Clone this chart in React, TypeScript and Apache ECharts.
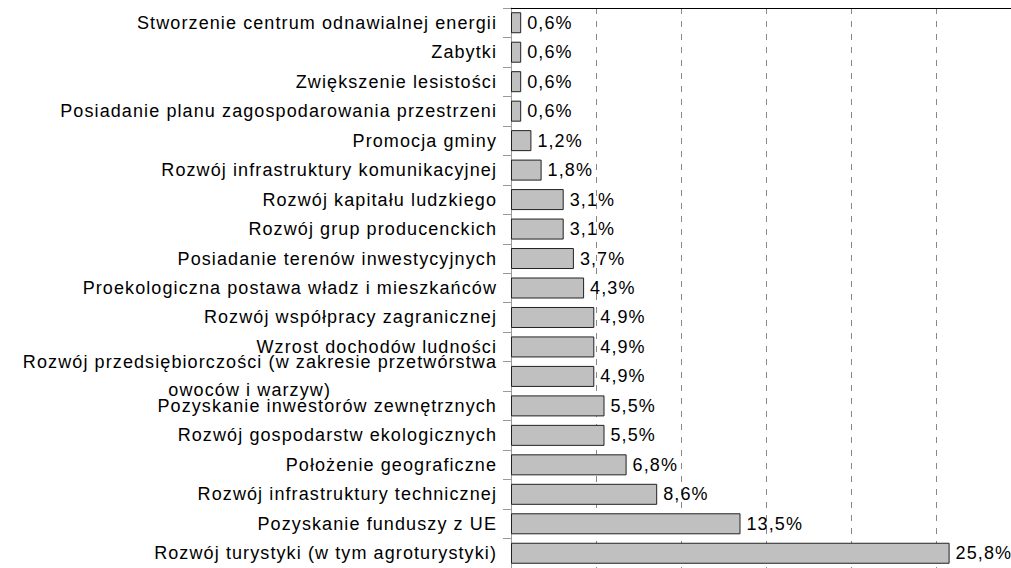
import React, { useEffect, useRef } from "react";
import * as echarts from "echarts";

const categories: string[] = [
  "Stworzenie centrum odnawialnej energii",
  "Zabytki",
  "Zwiększenie lesistości",
  "Posiadanie planu zagospodarowania przestrzeni",
  "Promocja gminy",
  "Rozwój infrastruktury komunikacyjnej",
  "Rozwój kapitału ludzkiego",
  "Rozwój grup producenckich",
  "Posiadanie terenów inwestycyjnych",
  "Proekologiczna postawa władz i mieszkańców",
  "Rozwój współpracy zagranicznej",
  "Wzrost dochodów ludności",
  "Rozwój przedsiębiorczości (w zakresie przetwórstwa\nowoców i warzyw)",
  "Pozyskanie inwestorów zewnętrznych",
  "Rozwój gospodarstw ekologicznych",
  "Położenie geograficzne",
  "Rozwój infrastruktury technicznej",
  "Pozyskanie funduszy z UE",
  "Rozwój turystyki (w tym agroturystyki)",
];

const values: number[] = [
  0.6, 0.6, 0.6, 0.6, 1.2, 1.8, 3.1, 3.1, 3.7, 4.3, 4.9, 4.9, 4.9, 5.5, 5.5,
  6.8, 8.6, 13.5, 25.8,
];

const FONT = "'Liberation Sans', Arial, sans-serif";
const FS = 18;

export default function App() {
  const ref = useRef<HTMLDivElement>(null);
  useEffect(() => {
    if (!ref.current) return;
    const chart = echarts.init(ref.current, undefined, { renderer: "svg" });
    const baseRich = {
      fontSize: FS,
      fontFamily: FONT,
      color: "#000",
      lineHeight: 28,
    };
    chart.setOption({
      animation: false,
      backgroundColor: "#fff",
      grid: {
        left: 511,
        top: 8,
        width: 510,
        height: 560,
        containLabel: false,
        outerBoundsMode: "none",
      },
      xAxis: {
        type: "value",
        position: "top",
        min: 0,
        max: 30,
        interval: 5,
        axisLine: { show: true, lineStyle: { color: "#000", width: 1 } },
        axisTick: { show: false },
        axisLabel: { show: false },
        splitLine: {
          show: true,
          showMinLine: false,
          lineStyle: { color: "#888", width: 1, type: [6, 7] },
        },
      },
      yAxis: {
        type: "category",
        inverse: true,
        data: categories,
        axisLine: { show: true, lineStyle: { color: "#999", width: 1 } },
        axisTick: { show: true, length: 8, lineStyle: { color: "#999" } },
        axisLabel: {
          margin: 14,
          fontSize: FS,
          fontFamily: FONT,
          color: "#000",
          lineHeight: 28,
          formatter: (v: string) => {
            if (v.indexOf("\n") >= 0) {
              const [a, b] = v.split("\n");
              return `{a|${a}}\n{b|${b}}`;
            }
            return v;
          },
          rich: {
            a: { ...baseRich, align: "right" },
            b: { ...baseRich, align: "right", padding: [0, 166, 0, 0] },
          },
        },
      },
      series: [
        {
          type: "bar",
          data: values,
          barWidth: 21,
          itemStyle: { color: "#c0c0c0", borderColor: "#222", borderWidth: 1 },
          label: {
            show: true,
            position: "right",
            distance: 6,
            fontSize: FS,
            fontFamily: FONT,
            color: "#000",
            formatter: (p: any) =>
              p.value.toFixed(1).replace(".", ",") + "%",
          },
        },
      ],
    });
    return () => chart.dispose();
  }, []);
  return (
    <>
      <style>{`.chartbox text { letter-spacing: 1.1px; }`}</style>
      <div
        ref={ref}
        className="chartbox"
        style={{ position: "fixed", left: 0, top: 0, width: 1011, height: 568 }}
      />
    </>
  );
}
